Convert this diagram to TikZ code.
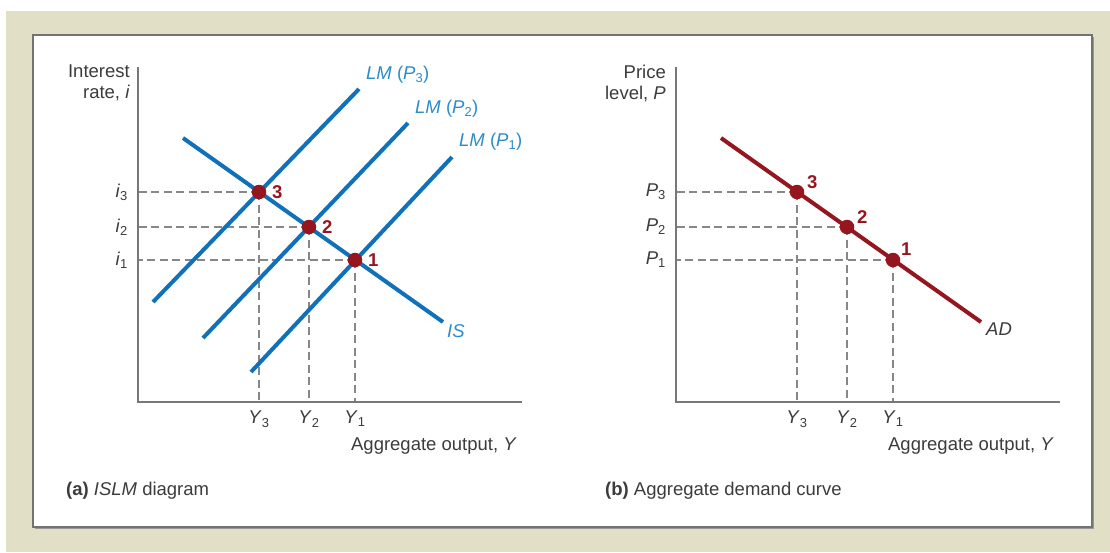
\documentclass[tikz,border=0pt]{standalone}
\usepackage{fontspec}
\setmainfont{Liberation Sans}
\usepackage{tikz}
\usetikzlibrary{positioning}

\definecolor{beige}{RGB}{226,223,199}
\definecolor{lmblue}{RGB}{16,112,186}
\definecolor{lmtext}{RGB}{45,140,200}
\definecolor{adred}{RGB}{150,22,32}
\definecolor{axisgray}{RGB}{120,120,120}
\definecolor{dashgray}{RGB}{135,135,135}
\definecolor{labgray}{RGB}{60,60,60}

\newcommand{\varsub}[2]{\textit{#1}\textsubscript{#2}}

\begin{document}
\begin{tikzpicture}[x=1pt,y=-1pt,
font=\fontsize{18.5}{21}\selectfont,
axis/.style={draw=axisgray,line width=1.8pt},
guide/.style={draw=dashgray,line width=1.4pt,dash pattern=on 8pt off 4.5pt},
lmcurve/.style={draw=lmblue,line width=4pt},
adcurve/.style={draw=adred,line width=4pt},
dot/.style={circle,fill=adred,inner sep=0pt,minimum size=14.5pt},
num/.style={font=\fontsize{18.5}{21}\selectfont\bfseries,text=adred,inner sep=1pt,anchor=west},
lab/.style={text=labgray,inner sep=1pt},
curvelab/.style={text=lmtext,inner sep=1pt,anchor=west}
]
\useasboundingbox (0,0) rectangle (1110,552);
\fill[beige] (6,11) rectangle (1110,552);
\fill[black!40] (35,37) rectangle (1094,529);
\filldraw[fill=white,draw=black!55,line width=1.5pt] (33,35) rectangle (1092,527);

% (a) ISLM diagram
\coordinate (oA) at (138,402);
\coordinate (yA) at (138,67);
\coordinate (xA) at (522,402);
\coordinate (e3) at (259,192);
\coordinate (e2) at (309,227);
\coordinate (e1) at (355,260);
\coordinate (is1) at (183,138);
\coordinate (is2) at (443,322);
\coordinate (lm3a) at (153,302);
\coordinate (lm3b) at (359,89);
\coordinate (lm2a) at (203,338);
\coordinate (lm2b) at (408,123);
\coordinate (lm1a) at (251,372);
\coordinate (lm1b) at (452,157);
\draw[guide] (e3) -- (e3 -| oA) (e3) -- (e3 |- oA);
\draw[guide] (e2) -- (e2 -| oA) (e2) -- (e2 |- oA);
\draw[guide] (e1) -- (e1 -| oA) (e1) -- (e1 |- oA);
\draw[lmcurve] (lm3a) -- (lm3b);
\draw[lmcurve] (lm2a) -- (lm2b);
\draw[lmcurve] (lm1a) -- (lm1b);
\draw[lmcurve] (is1) -- (is2);
\draw[axis] (yA) -- (oA) -- (xA);
\node[dot] (dotA3) at (e3) {};
\node[dot] (dotA2) at (e2) {};
\node[dot] (dotA1) at (e1) {};
\node[num] (numA3) at ([xshift=12pt]e3) {3};
\node[num] (numA2) at ([xshift=12pt]e2) {2};
\node[num] (numA1) at ([xshift=12pt]e1) {1};
\node[curvelab] (lm3lab) at ([xshift=6pt,yshift=14pt]lm3b) {\textit{LM} (\varsub{P}{3})};
\node[curvelab] (lm2lab) at ([xshift=6pt,yshift=14pt]lm2b) {\textit{LM} (\varsub{P}{2})};
\node[curvelab] (lm1lab) at ([xshift=6pt,yshift=15pt]lm1b) {\textit{LM} (\varsub{P}{1})};
\node[curvelab] (islab) at ([xshift=3pt,yshift=-9pt]is2) {\textit{IS}};
\node[lab,anchor=east] (i3) at ([xshift=-9pt]e3 -| oA) {\varsub{i}{3}};
\node[lab,anchor=east] (i2) at ([xshift=-9pt]e2 -| oA) {\varsub{i}{2}};
\node[lab,anchor=east] (i1) at ([xshift=-9pt]e1 -| oA) {\varsub{i}{1}};
\node[lab,anchor=north] (ya3) at ([yshift=-8pt]e3 |- oA) {\varsub{Y}{3}};
\node[lab,anchor=north] (ya2) at ([yshift=-8pt]e2 |- oA) {\varsub{Y}{2}};
\node[lab,anchor=north] (ya1) at ([yshift=-8pt]e1 |- oA) {\varsub{Y}{1}};
\node[lab,align=right,anchor=east] (rateA) at (131,83) {Interest\\rate, \textit{i}};
\node[lab,anchor=east] (outA) at (518,446) {Aggregate output, \textit{Y}};
\node[lab,anchor=west] (capA) at (65,491) {\textbf{(a)} \textit{ISLM} diagram};

% (b) Aggregate demand curve
\coordinate (oB) at (676,402);
\coordinate (yB) at (676,67);
\coordinate (xB) at (1060,402);
\coordinate (p3) at (797,192);
\coordinate (p2) at (847,227);
\coordinate (p1) at (893,260);
\coordinate (ad1) at (721,138);
\coordinate (ad2) at (981,322);
\draw[guide] (p3) -- (p3 -| oB) (p3) -- (p3 |- oB);
\draw[guide] (p2) -- (p2 -| oB) (p2) -- (p2 |- oB);
\draw[guide] (p1) -- (p1 -| oB) (p1) -- (p1 |- oB);
\draw[adcurve] (ad1) -- (ad2);
\draw[axis] (yB) -- (oB) -- (xB);
\node[dot] (dotB3) at (p3) {};
\node[dot] (dotB2) at (p2) {};
\node[dot] (dotB1) at (p1) {};
\node[num] (numB3) at ([xshift=9pt,yshift=10pt]p3) {3};
\node[num] (numB2) at ([xshift=9pt,yshift=10pt]p2) {2};
\node[num] (numB1) at ([xshift=7pt,yshift=11pt]p1) {1};
\node[lab,anchor=west] (adlab) at ([xshift=4pt,yshift=-7pt]ad2) {\textit{AD}};
\node[lab,anchor=east] (pl3) at ([xshift=-9pt]p3 -| oB) {\varsub{P}{3}};
\node[lab,anchor=east] (pl2) at ([xshift=-9pt]p2 -| oB) {\varsub{P}{2}};
\node[lab,anchor=east] (pl1) at ([xshift=-9pt]p1 -| oB) {\varsub{P}{1}};
\node[lab,anchor=north] (yb3) at ([yshift=-8pt]p3 |- oB) {\varsub{Y}{3}};
\node[lab,anchor=north] (yb2) at ([yshift=-8pt]p2 |- oB) {\varsub{Y}{2}};
\node[lab,anchor=north] (yb1) at ([yshift=-8pt]p1 |- oB) {\varsub{Y}{1}};
\node[lab,align=right,anchor=east] (priceB) at (667,83) {Price\\level, \textit{P}};
\node[lab,anchor=east] (outB) at (1055,446) {Aggregate output, \textit{Y}};
\node[lab,anchor=west] (capB) at (604,491) {\textbf{(b)} Aggregate demand curve};
\end{tikzpicture}
\end{document}
